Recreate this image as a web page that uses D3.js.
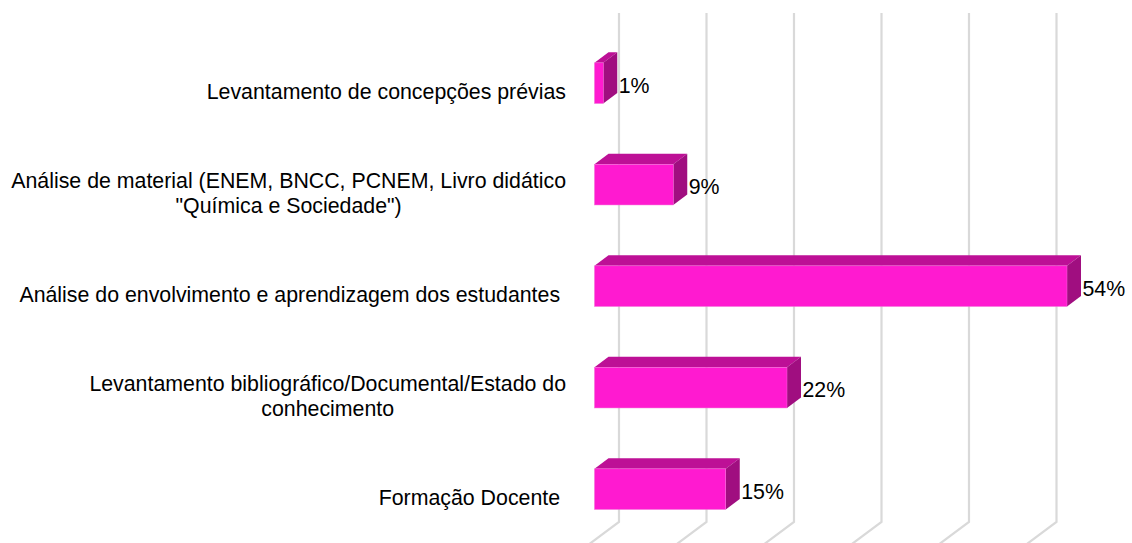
<!DOCTYPE html>
<html><head><meta charset="utf-8">
<script src="https://cdn.jsdelivr.net/npm/d3@7"></script>
<style>
html,body{margin:0;padding:0;background:#fff}
svg{display:block}
text{font-family:"Liberation Sans",Arial,sans-serif;fill:#000;white-space:pre}
</style></head><body><svg id="c" width="1132" height="543"></svg>
<script>
const categories=["Levantamento de concepções prévias","Análise de material","Análise do envolvimento","Levantamento bibliográfico","Formação Docente"];
const labelLines=[
 ["Levantamento de concepções prévias"],
 ["Análise de material (ENEM, BNCC, PCNEM, Livro didático","\"Química e Sociedade\")"],
 ["Análise do envolvimento e aprendizagem dos estudantes "],
 ["Levantamento bibliográfico/Documental/Estado do","conhecimento"],
 ["Formação Docente "]
];
const values=[1,9,54,22,15];
const gridTicks=[0,10,20,30,40,50];

const svg=d3.select("#c");
const W=594.5, T=32.4;
const x=d3.scaleLinear().domain([0,60]).range([W,W+525]);
const y=d3.scaleBand().domain(categories).range([T,T+507.5]).paddingInner(0.6).paddingOuter(0.3);
const dx=14,dy=10.5,wallX=24.5,wallTop=13,wallBottom=522;

const grid=svg.append("g").attr("fill","none").attr("stroke","#d9d9d9").attr("stroke-width",2.2);
grid.selectAll("path").data(gridTicks).join("path")
 .attr("d",d=>{const p=x(d)+wallX;return `M${p},${wallTop}V${wallBottom}L${p-35},${wallBottom+26}`});

const bars=svg.append("g").selectAll("g").data(categories).join("g");
const X0=x(0);
bars.append("path").attr("fill","#bd1096")
 .attr("d",(c,i)=>{const r=x(values[i]),t=y(c);return `M${X0},${t}L${X0+dx},${t-dy}H${r+dx}L${r},${t}Z`});
bars.append("path").attr("fill","#a00e80")
 .attr("d",(c,i)=>{const r=x(values[i]),t=y(c),b=t+y.bandwidth();return `M${r},${t}L${r+dx},${t-dy}V${b-dy}L${r},${b}Z`});
bars.append("rect").attr("fill","#ff1ad0").attr("stroke","#f46ad8").attr("stroke-width",0.5).attr("x",X0).attr("y",c=>y(c))
 .attr("width",(c,i)=>x(values[i])-X0).attr("height",y.bandwidth());

bars.append("text").attr("font-size",21.33).attr("x",(c,i)=>x(values[i])+15.5)
 .attr("y",c=>y(c)+y.bandwidth()/2+2).attr("dy","0.35em").text((c,i)=>values[i]+"%");

const right=566, lh=24.5;
const labs=svg.append("g").selectAll("g").data(categories).join("g");
labs.each(function(c,i){
  const g=d3.select(this),lines=labelLines[i];
  const ts=lines.map((s,j)=>g.append("text").attr("font-size",21.33).attr("text-anchor","middle")
     .attr("y",y(c)+y.bandwidth()/2+8.5+(j-(lines.length-1)/2)*lh).attr("dy","0.35em").text(s));
  const w=d3.max(ts,t=>t.node().getComputedTextLength());
  ts.forEach(t=>t.attr("x",right-w/2));
});
</script></body></html>
